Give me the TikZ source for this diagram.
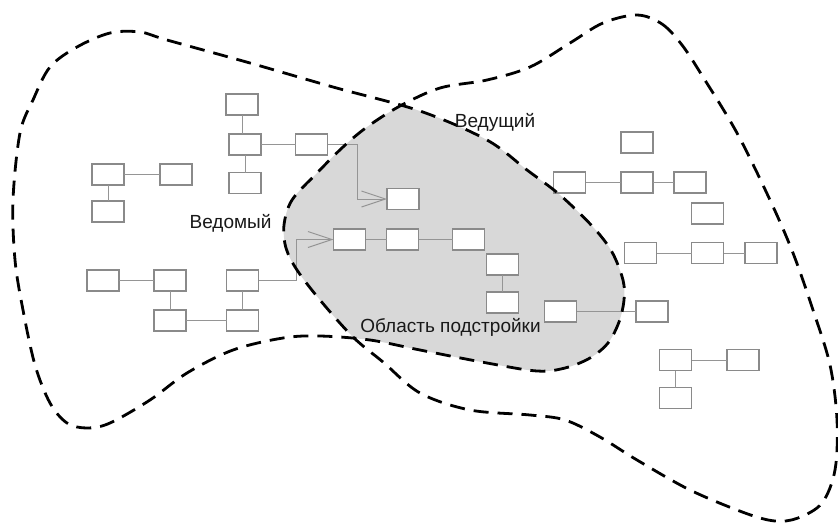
\documentclass[tikz,border=0pt]{standalone}
\usepackage{fontspec}
\setmainfont{Liberation Sans}
\usetikzlibrary{arrows.meta}
\definecolor{boxgray}{HTML}{8A8A8A}
\definecolor{linegray}{HTML}{959595}
\definecolor{shadegray}{HTML}{D8D8D8}
\begin{document}
\begin{tikzpicture}[x=1pt,y=-1pt,
  box/.style={draw=boxgray, fill=white, line width=1.2pt, minimum width=32pt, minimum height=21pt, inner sep=0pt, outer sep=0pt},
  link/.style={draw=linegray, line width=1pt},
  arr/.style={link, -{Straight Barb[length=24pt,width=16pt,line width=1pt]}},
  bound/.style={draw=black, line width=2.8pt, dash pattern=on 15pt off 9pt},
  lbl/.style={font=\fontsize{19}{22}\selectfont, text=black!90, anchor=base, inner sep=0pt}
]
\useasboundingbox[fill=white] (0,0) rectangle (838,523);
\def\curveA{plot[smooth cycle, tension=0.55] coordinates {
 (140,32) (167,40) (250,63) (333,87) (420,111) (487,140) (527,170) (560,195) (593,227) (612,252) (623,280) (624,300) (619,322) (608,343) (590,358) (565,368) (537,371) (487,363) (420,350) (370,340) (320,336) (283,338) (233,350) (187,373) (150,400) (110,423) (87,428) (67,423) (50,403) (35,365) (23,310) (15,260) (13,200) (20,133) (33,100) (50,67) (77,47) (110,33)}}
\def\curveB{plot[smooth cycle, tension=0.55] coordinates {
 (637,15) (662,24) (682,45) (703,77) (737,133) (770,200) (793,253) (813,310) (830,365) (837,420) (835,470) (822,503) (798,518) (775,521) (745,513) (690,490) (637,460) (600,437) (565,420) (530,415) (470,410) (420,393) (383,362) (353,337) (320,300) (297,270) (286,248) (284,225) (292,200) (317,173) (343,147) (367,127) (400,106) (440,88) (487,80) (530,67) (570,43) (603,23)}}
% shaded overlap
\begin{scope}
  \clip \curveB;
  \fill[shadegray] \curveA;
\end{scope}
% boxes
\node[box] (A) at (242,104.5) {};
\node[box] (B) at (245,144.5) {};
\node[box] (C) at (311.5,144.5) {};
\node[box] (D) at (245,183) {};
\node[box] (E) at (108,174.5) {};
\node[box] (F) at (176,174.5) {};
\node[box] (G) at (108,211.5) {};
\node[box] (H) at (403,199) {};
\node[box] (N) at (103,280.5) {};
\node[box] (O) at (170,280.5) {};
\node[box] (P) at (242.5,280.5) {};
\node[box] (Q) at (170,320.5) {};
\node[box] (R) at (242.5,320.5) {};
\node[box] (I) at (349.5,239.5) {};
\node[box] (J) at (402.5,239.5) {};
\node[box] (K) at (468.5,239.5) {};
\node[box] (L) at (502.5,264.5) {};
\node[box] (M) at (502.5,302.5) {};
\node[box] (S) at (560.5,311.5) {};
\node[box] (T) at (652,311.5) {};
\node[box] (U) at (675.5,360) {};
\node[box] (V) at (743,360) {};
\node[box] (W) at (675.5,398) {};
\node[box] (X) at (637,142.5) {};
\node[box] (Y) at (569.5,182.5) {};
\node[box] (Z) at (637,182.5) {};
\node[box] (AA) at (690,182.5) {};
\node[box] (AB) at (707.5,213.5) {};
\node[box] (AC) at (640.5,253) {};
\node[box] (AD) at (707.5,253) {};
\node[box] (AE) at (761,253) {};
% connectors
\draw[link] (A.south) -- (A.south |- B.north);
\draw[link] (B) -- (C);
\draw[link] (B) -- (D);
\draw[link] (E) -- (F);
\draw[link] (E) -- (G);
\draw[link] (N) -- (O);
\draw[link] (O) -- (Q);
\draw[link] (Q) -- (R);
\draw[link] (P) -- (R);
\draw[link] (I) -- (J);
\draw[link] (J) -- (K);
\draw[link] (L) -- (M);
\draw[link] (S) -- (T);
\draw[link] (U) -- (V);
\draw[link] (U) -- (W);
\draw[link] (Y) -- (Z);
\draw[link] (Z) -- (AA);
\draw[link] (AC) -- (AD);
\draw[link] (AD) -- (AE);
\draw[arr] (C.east) -- ++(29.5,0) |- (H.west);
\draw[arr] (P.east) -- ++(37.5,0) |- (I.west);
% boundaries
\draw[bound] \curveA;
\draw[bound] \curveB;
% labels
\node[lbl] (lv) at (230.5,228) {Ведомый};
\node[lbl] (ld) at (495,127) {Ведущий};
\node[lbl] (lo) at (450.5,332) {Область подстройки};
\end{tikzpicture}
\end{document}
